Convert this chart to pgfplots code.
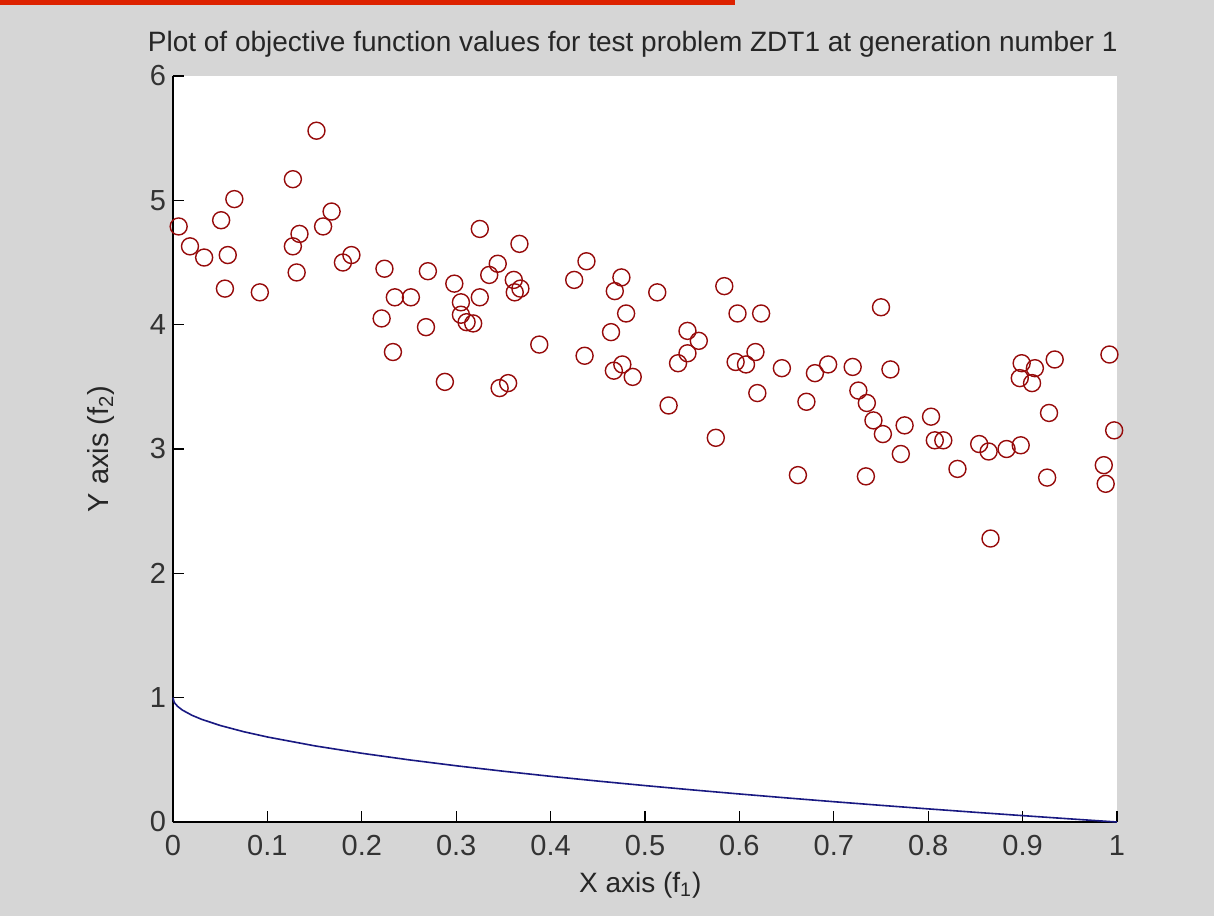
\documentclass[border=0pt]{standalone}
\usepackage{pgfplots}
\pgfplotsset{compat=1.18}
\usepackage{fontspec}
\setmainfont{Liberation Sans}
\definecolor{figgray}{RGB}{214,214,214}
\definecolor{topred}{RGB}{221,34,0}
\definecolor{ptred}{RGB}{150,10,10}
\definecolor{curveblue}{RGB}{25,25,130}
\begin{document}
\begin{tikzpicture}
\fill[figgray] (-86.5pt,-47pt) rectangle (520.5pt,411pt);
\useasboundingbox (-86.5pt,-47pt) rectangle (520.5pt,411pt);
\fill[topred] (-86.5pt,408.5pt) rectangle (281pt,411pt);
\begin{axis}[
  scale only axis, width=472pt, height=373pt,
  xmin=0, xmax=1, ymin=0, ymax=6,
  axis x line*=bottom, axis y line*=left,
  axis line style={-, black, line width=0.6pt},
  axis background/.style={fill=white},
  tick align=inside,
  major tick length=5.5pt,
  tick style={black, line width=0.6pt},
  xtick={0,0.1,0.2,0.3,0.4,0.5,0.6,0.7,0.8,0.9,1},
  xticklabels={0,0.1,0.2,0.3,0.4,0.5,0.6,0.7,0.8,0.9,1},
  ytick={0,1,2,3,4,5,6},
  yticklabels={0,1,2,3,4,5,6},
  tick label style={font=\fontsize{14.5}{14.5}\selectfont, text=black!80},
  xticklabel style={yshift=-3pt},
  title={Plot of objective function values for test problem ZDT1 at generation number 1},
  title style={font=\fontsize{14}{14}\selectfont, text=black!85, at={(axis description cs:0.487,1.017)}, anchor=base, inner sep=0pt},
  xlabel={X axis (f\textsubscript{1})},
  xlabel style={font=\fontsize{14}{14}\selectfont, text=black!85, at={(axis description cs:0.495,-0.094)}, anchor=base, inner sep=0pt},
  ylabel={Y axis (f\textsubscript{2})},
  ylabel style={font=\fontsize{14.5}{14.5}\selectfont, text=black!85, at={(axis description cs:-0.068,0.5)}, anchor=base, inner sep=0pt},
  clip=false,
]
\addplot[curveblue, line width=0.8pt] coordinates {
(0,1) (0.001,0.9684) (0.002,0.9553) (0.005,0.9293) (0.01,0.9) (0.02,0.8586) (0.03,0.8268)
(0.05,0.7764) (0.075,0.7261) (0.1,0.6838) (0.15,0.6127) (0.2,0.5528) (0.25,0.5)
(0.3,0.4523) (0.35,0.4084) (0.4,0.3675) (0.45,0.3292) (0.5,0.2929) (0.55,0.2584)
(0.6,0.2254) (0.65,0.1938) (0.7,0.1633) (0.75,0.1340) (0.8,0.1056) (0.85,0.0780)
(0.9,0.0513) (0.95,0.0253) (1,0)
};
\addplot[only marks, mark=o, mark size=4.25pt, mark options={ptred, line width=0.7pt}] coordinates {
(0.152,5.56) (0.127,5.17) (0.065,5.01) (0.168,4.91) (0.051,4.84) (0.006,4.79) (0.159,4.79)
(0.134,4.73) (0.127,4.63) (0.018,4.63) (0.033,4.54) (0.058,4.56) (0.180,4.50) (0.189,4.56)
(0.131,4.42) (0.224,4.45) (0.055,4.29) (0.092,4.26) (0.235,4.22) (0.252,4.22) (0.221,4.05)
(0.233,3.78) (0.268,3.98) (0.325,4.77) (0.367,4.65) (0.270,4.43) (0.344,4.49) (0.335,4.40)
(0.298,4.33) (0.361,4.36) (0.368,4.29) (0.362,4.26) (0.325,4.22) (0.305,4.18) (0.305,4.08)
(0.311,4.02) (0.318,4.01) (0.438,4.51) (0.425,4.36) (0.475,4.38) (0.468,4.27) (0.513,4.26)
(0.480,4.09) (0.464,3.94) (0.388,3.84) (0.436,3.75) (0.467,3.63) (0.476,3.68) (0.487,3.58)
(0.288,3.54) (0.346,3.49) (0.355,3.53) (0.525,3.35) (0.584,4.31) (0.598,4.09) (0.623,4.09)
(0.750,4.14) (0.545,3.95) (0.557,3.87) (0.545,3.77) (0.535,3.69) (0.617,3.78) (0.596,3.70)
(0.607,3.68) (0.645,3.65) (0.680,3.61) (0.694,3.68) (0.720,3.66) (0.760,3.64) (0.619,3.45)
(0.671,3.38) (0.726,3.47) (0.735,3.37) (0.742,3.23) (0.752,3.12) (0.775,3.19) (0.771,2.96)
(0.575,3.09) (0.662,2.79) (0.734,2.78) (0.992,3.76) (0.934,3.72) (0.899,3.69) (0.913,3.65)
(0.897,3.57) (0.910,3.53) (0.928,3.29) (0.997,3.15) (0.803,3.26) (0.807,3.07) (0.816,3.07)
(0.831,2.84) (0.854,3.04) (0.864,2.98) (0.883,3.00) (0.898,3.03) (0.926,2.77) (0.986,2.87)
(0.988,2.72) (0.866,2.28)
};
\end{axis}
\end{tikzpicture}
\end{document}
